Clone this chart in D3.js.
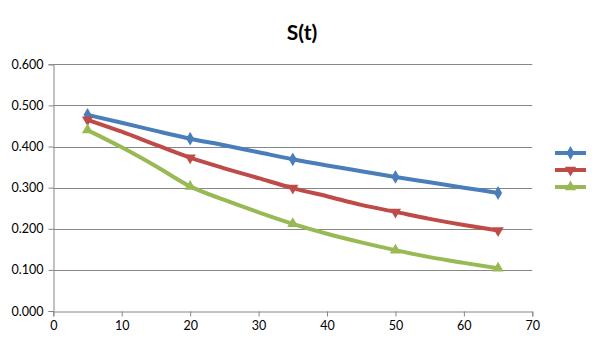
<!DOCTYPE html>
<html><head><meta charset="utf-8">
<script src="https://cdn.jsdelivr.net/npm/d3@7"></script>
<style>body{margin:0;background:#fff}svg{display:block}</style>
</head><body>
<svg id="c" width="605" height="340"></svg>
<script>
const xValues = [5,10,15,20,25,30,35,40,45,50,55,60,65];
const blueValues  = [0.477,0.458,0.438,0.419,0.403,0.386,0.369,0.354,0.340,0.326,0.313,0.300,0.287];
const redValues   = [0.465,0.436,0.404,0.373,0.347,0.323,0.299,0.279,0.258,0.241,0.224,0.209,0.196];
const greenValues = [0.440,0.398,0.352,0.303,0.270,0.240,0.212,0.188,0.167,0.148,0.131,0.117,0.104];
const markerX = [5,20,35,50,65];
const xTicks = [0,10,20,30,40,50,60,70];
const yTicks = [0,0.1,0.2,0.3,0.4,0.5,0.6];
const titleText = "S(t)";

const series = [
  {vals: blueValues, color: "#4a7ebb", sym: d3.symbolDiamond, rot: 0},
  {vals: redValues, color: "#be4b48", sym: d3.symbolTriangle, rot: 180},
  {vals: greenValues, color: "#98b954", sym: d3.symbolTriangle, rot: 0}
];

const svg = d3.select("#c");
const x = d3.scaleLinear().domain([0,70]).range([53.3,532.3]);
const y = d3.scaleLinear().domain([0,0.6]).range([311,64.3]);
const font = "Lato, 'Open Sans', sans-serif";

svg.append("g").selectAll("line").data(yTicks.slice(1)).join("line")
  .attr("x1", x(0)).attr("x2", x(70))
  .attr("y1", d => Math.round(y(d))+0.5).attr("y2", d => Math.round(y(d))+0.5)
  .attr("stroke", "#868686").attr("stroke-width", 1);

const yAxis = d3.axisLeft(y).tickValues(yTicks).tickFormat(d3.format(".3f")).tickSize(5).tickPadding(5);
const gy = svg.append("g").attr("transform", `translate(${Math.round(x(0))+0.5},0)`).call(yAxis);
const xAxis = d3.axisBottom(x).tickValues(xTicks).tickFormat(d3.format("d")).tickSize(5).tickPadding(5);
const gx = svg.append("g").attr("transform", `translate(0,${Math.round(y(0))+0.5})`).call(xAxis);
[gx, gy].forEach(g => {
  g.select(".domain").attr("stroke", "#868686");
  g.selectAll(".tick line").attr("stroke", "#868686");
  g.selectAll("text").attr("font-family", font).attr("font-size", 12.5).attr("fill", "#000");
});

const line = d3.line().x((d,i) => x(xValues[i])).y(d => y(d)).curve(d3.curveMonotoneX);
series.forEach(s => {
  svg.append("path").attr("d", line(s.vals)).attr("fill", "none")
    .attr("stroke", s.color).attr("stroke-width", 4).attr("stroke-linejoin", "round");
  svg.append("g").selectAll("path").data(markerX).join("path")
    .attr("d", d3.symbol().type(s.sym).size(55))
    .attr("transform", d => `translate(${x(d)},${y(s.vals[xValues.indexOf(d)])}) rotate(${s.rot})`)
    .attr("fill", s.color);
});

series.forEach((s, i) => {
  const ly = 153 + i*17;
  svg.append("line").attr("x1", 555).attr("x2", 586).attr("y1", ly).attr("y2", ly)
    .attr("stroke", s.color).attr("stroke-width", 4);
  svg.append("path").attr("d", d3.symbol().type(s.sym).size(55))
    .attr("transform", `translate(570.5,${ly}) rotate(${s.rot})`).attr("fill", s.color);
});

svg.append("text").attr("x", 302).attr("y", 40).attr("text-anchor", "middle")
  .attr("font-family", font).attr("font-weight", "bold").attr("font-size", 21)
  .text(titleText);
</script>
</body></html>
